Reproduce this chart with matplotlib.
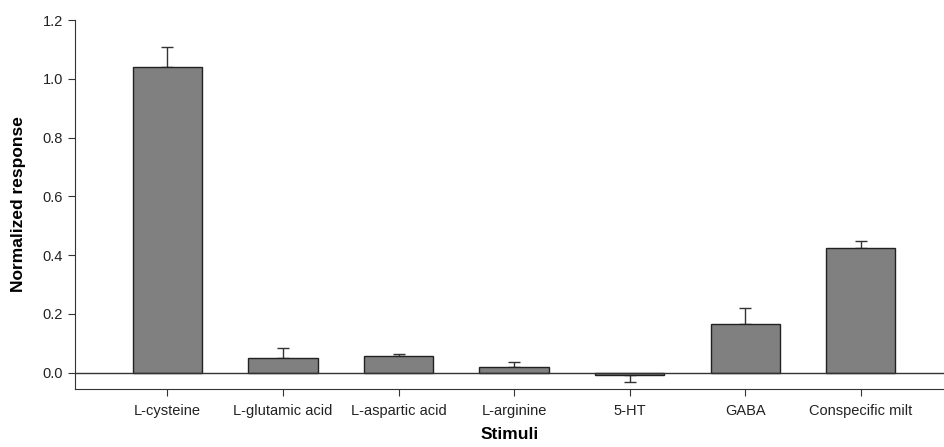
import numpy as np
import matplotlib
matplotlib.use('Agg')
from matplotlib import pyplot as plt

# donnees
stimuli = ['L-cysteine', 'L-glutamic acid', 'L-aspartic acid', 'L-arginine',
           '5-HT', 'GABA', 'Conspecific milt']
response = [1.04, 0.05, 0.058, 0.018, -0.008, 0.167, 0.425]
sem = [0.07, 0.035, 0.006, 0.02, 0.025, 0.052, 0.022]

plt.rcParams['font.family'] = ['Liberation Sans', 'DejaVu Sans']

fig = plt.figure(figsize=(9.44, 4.47), dpi=100)
ax = fig.add_axes([0.0794, 0.130, 0.9206, 0.825])

x = np.arange(len(stimuli))
ax.bar(x, response, width=0.6, color='#808080', edgecolor='#222222', linewidth=1.0, zorder=3)

# erreurs a sens unique (vers le haut, ou vers le bas si negatif)
up = [s if r >= 0 else 0 for r, s in zip(response, sem)]
down = [s if r < 0 else 0 for r, s in zip(response, sem)]
ax.errorbar(x, response, yerr=[down, up], fmt='none', ecolor='#333333',
            elinewidth=1.0, capsize=4, capthick=1.0, zorder=2)
ax.axhline(0, color='#333333', linewidth=1.0, zorder=4)

ax.set_xlim(-0.8, 6.72)
ax.set_ylim(-0.055, 1.2)
ax.set_yticks(np.arange(0, 1.21, 0.2))
ax.set_yticklabels(['%.1f' % v for v in np.arange(0, 1.21, 0.2)])
ax.set_xticks(x)
ax.set_xticklabels(stimuli)
ax.tick_params(axis='both', direction='out', length=5, color='#333333',
               labelsize=10.5, labelcolor='#222222')
ax.tick_params(axis='x', pad=6)

for side in ['top', 'right']:
    ax.spines[side].set_visible(False)
for side in ['left', 'bottom']:
    ax.spines[side].set_color('#333333')

ax.set_xlabel('Stimuli', fontsize=12.5, fontweight='bold')
ax.xaxis.set_label_coords(0.5, -0.103)
ax.set_ylabel('Normalized response', fontsize=12.5, fontweight='bold', labelpad=12)

plt.savefig('out.png', dpi=100)
